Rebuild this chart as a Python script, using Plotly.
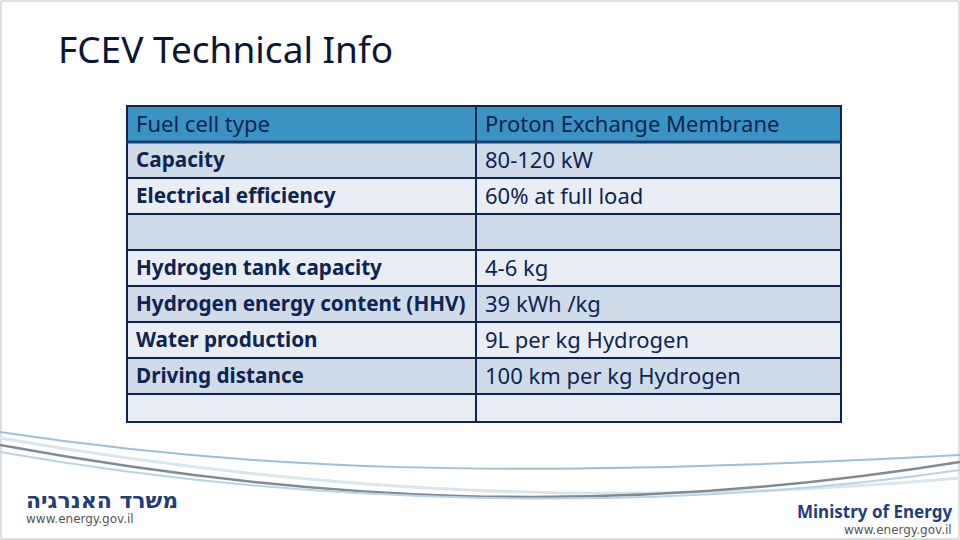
import plotly.graph_objects as go

header = ["Fuel cell type", "Proton Exchange Membrane"]
params = ["Capacity", "Electrical efficiency", "", "Hydrogen tank capacity",
          "Hydrogen energy content (HHV)", "Water production", "Driving distance", ""]
values = ["80-120 kW", "60% at full load", "", "4-6 kg", "39 kWh /kg",
          "9L per kg Hydrogen", "100 km per kg Hydrogen", ""]

dark, light = "#CFDCE8", "#E8EEF4"
navy = "#0E2452"
X0, XM, X1 = 127, 476, 841
row_tops = [106, 142, 178, 214, 250, 286, 322, 358, 394, 422]

shapes, ann = [], []
shapes.append(dict(type="rect", xref="x", yref="y", x0=1, x1=959, y0=1, y1=539,
                   line=dict(color="#BFBFBF", width=1)))
rows = [(header[0], header[1], "#3A93C3")] + [
    (p, v, dark if i % 2 == 0 else light) for i, (p, v) in enumerate(zip(params, values))]
for i, (p, v, fc) in enumerate(rows):
    t, b = row_tops[i], row_tops[i + 1]
    for xa, xb in [(X0, XM), (XM, X1)]:
        shapes.append(dict(type="rect", xref="x", yref="y", x0=xa, x1=xb, y0=t, y1=b,
                           fillcolor=fc, line=dict(color=navy, width=2)))
    sz = 22 if i == 0 else 20.7
    for txt, xa, bold, s in [(p, X0, i > 0, sz), (v, XM, False, 22)]:
        if txt:
            ann.append(dict(text=f"<b>{txt}</b>" if bold else txt, x=xa + 7, y=(t + b) / 2 - 1,
                            xref="x", yref="y", xanchor="left", yanchor="middle",
                            showarrow=False, font=dict(family="Noto Sans", size=s, color=navy)))
shapes.append(dict(type="line", xref="x", yref="y", x0=X0, x1=X1, y0=142, y1=142,
                   line=dict(color="#1B3F73", width=3)))

for d, c, w in [("M0,432 C250,470 500,480 960,455", "#9FBFD6", 2),
                ("M0,438 C300,490 600,510 960,478", "#D9E6EE", 3),
                ("M0,445 C300,500 600,520 960,462", "#7F8A94", 2.5),
                ("M0,452 C300,505 650,515 960,470", "#B9D3E2", 2)]:
    shapes.append(dict(type="path", xref="x", yref="y", path=d, line=dict(color=c, width=w)))

ann += [
    dict(text="FCEV Technical Info", x=56, y=48, xref="x", yref="y",
         xanchor="left", yanchor="middle", showarrow=False,
         font=dict(family="Noto Sans", size=37, color="#0A1633")),
    dict(text="<b>משרד האנרגיה</b>", x=24, y=500, xref="x", yref="y",
         xanchor="left", yanchor="middle", showarrow=False,
         font=dict(family="DejaVu Sans", size=22, color="#1F3E7A")),
    dict(text="www.energy.gov.il", x=24, y=519, xref="x", yref="y",
         xanchor="left", yanchor="middle", showarrow=False,
         font=dict(family="DejaVu Sans", size=12, color="#555555")),
    dict(text="<b>Ministry of Energy</b>", x=954, y=511, xref="x", yref="y",
         xanchor="right", yanchor="middle", showarrow=False,
         font=dict(family="Liberation Sans Narrow, Noto Sans", size=17, color="#1F3E7A")),
    dict(text="www.energy.gov.il", x=954, y=530, xref="x", yref="y",
         xanchor="right", yanchor="middle", showarrow=False,
         font=dict(family="DejaVu Sans", size=12, color="#555555")),
]

fig = go.Figure()
fig.update_layout(
    width=960, height=540, margin=dict(l=0, r=0, t=0, b=0),
    paper_bgcolor="white", plot_bgcolor="white",
    xaxis=dict(range=[0, 960], visible=False, fixedrange=True),
    yaxis=dict(range=[540, 0], visible=False, fixedrange=True),
    shapes=shapes, annotations=ann,
)
fig.write_html("out.html", config={"displayModeBar": False},
               post_script="document.body.style.margin='0';document.body.style.overflow='hidden';")
